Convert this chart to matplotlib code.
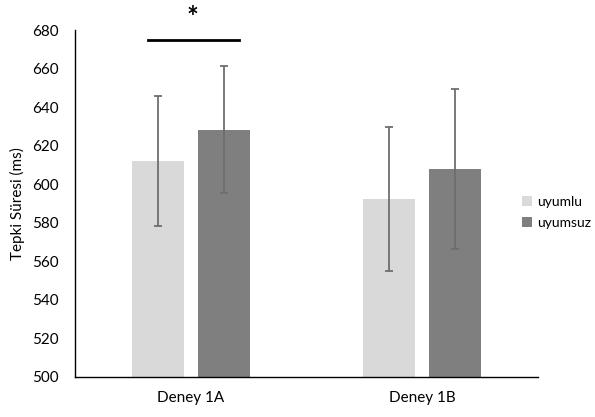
import matplotlib.pyplot as plt
import numpy as np

plt.rcParams['font.family'] = ['Lato', 'DejaVu Sans']

groups = ['Deney 1A', 'Deney 1B']
series = ['uyumlu', 'uyumsuz']
uyumlu = [612.2, 592.4]
uyumlu_err = [33.8, 37.5]
uyumsuz = [628.2, 607.9]
uyumsuz_err = [32.9, 41.3]
yticks = list(range(500, 681, 20))


def make_chart():
    fig = plt.figure(figsize=(5.95, 4.17), dpi=100)
    ax = fig.add_axes([0.126, 0.096, 0.778, 0.832])

    x = np.arange(len(groups))
    w = 0.225
    off = 0.143
    err_kw = dict(ecolor='#6e6e6e', elinewidth=1.3, capsize=3, capthick=1.3)
    ax.bar(x - off, uyumlu, w, yerr=uyumlu_err, color='#d9d9d9',
           label=series[0], error_kw=err_kw)
    ax.bar(x + off, uyumsuz, w, yerr=uyumsuz_err, color='#7f7f7f',
           label=series[1], error_kw=err_kw)

    ax.set_ylim(500, 680)
    ax.set_xlim(-0.5, 1.5)
    ax.set_yticks(yticks)
    ax.set_xticks(x)
    ax.set_xticklabels(groups)
    ax.tick_params(axis='y', length=0, labelsize=11, pad=12)
    ax.tick_params(axis='x', length=0, labelsize=11, pad=10)
    ax.set_ylabel('Tepki Süresi (ms)', fontsize=11, labelpad=5)
    for s in ['top', 'right']:
        ax.spines[s].set_visible(False)
    for s in ['left', 'bottom']:
        ax.spines[s].set_linewidth(1.0)

    # significance marker
    ax.plot([-0.186, 0.208], [675, 675], color='black', lw=2, clip_on=False)
    ax.text(0.009, 686, '*', ha='center', va='center', fontsize=20,
            fontweight='bold', clip_on=False)

    fig.legend(loc='upper left', bbox_to_anchor=(0.878, 0.531),
               frameon=False, fontsize=10, handlelength=0.7,
               handleheight=0.7, handletextpad=0.35, labelspacing=0.65,
               borderaxespad=0, borderpad=0)
    return fig


if __name__ == '__main__':
    fig = make_chart()
    fig.savefig('out.png', dpi=100)
